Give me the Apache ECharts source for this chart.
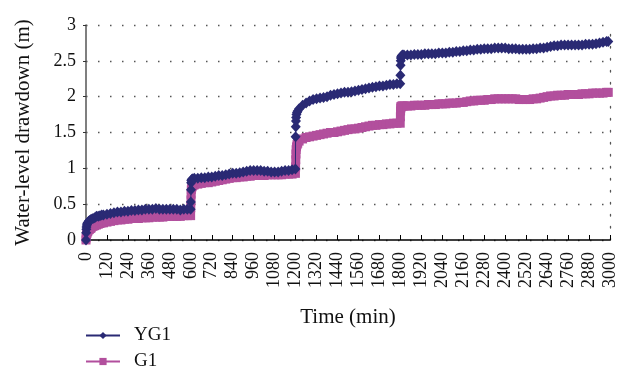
<!DOCTYPE html>
<html>
<head>
<meta charset="utf-8">
<script src="https://cdn.jsdelivr.net/npm/echarts@6/dist/echarts.min.js"></script>
<style>html,body{margin:0;padding:0;background:#fff}#c{width:619px;height:373px}</style>
</head>
<body>
<div id="c"></div>
<script>
// Time (min)
const times = [
  0,1,2,3,5,7,10,15,20,25,30,40,50,60,70,80,90,100,120,140,160,180,200,220,240,260,280,300,320,340,360,380,400,420,440,460,480,500,520,540,560,580,599,
  600,601,602,603,605,608,612,620,640,660,680,700,720,740,760,780,800,820,840,860,880,900,920,940,960,980,1000,1020,1040,1060,1080,1100,1120,1140,1160,1180,1199,
  1200,1201,1202,1203,1205,1208,1212,1220,1240,1260,1280,1300,1320,1340,1360,1380,1400,1420,1440,1460,1480,1500,1520,1540,1560,1580,1600,1620,1640,1660,1680,1700,1720,1740,1760,1780,1799,
  1800,1801,1802,1803,1805,1808,1812,1820,1840,1860,1880,1900,1920,1940,1960,1980,2000,2020,2040,2060,2080,2100,2120,2140,2160,2180,2200,2220,2240,2260,2280,2300,2320,2340,2360,2380,2400,
  2420,2440,2460,2480,2500,2520,2540,2560,2580,2600,2620,2640,2660,2680,2700,2720,2740,2760,2780,2800,2820,2840,2860,2880,2900,2920,2940,2960,2980,2990
];
// YG1 water-level drawdown (m)
const yg1 = [
  0,0.10,0.15,0.18,0.21,0.23,0.24,0.26,0.27,0.28,0.29,0.30,0.31,0.33,0.33,0.34,0.35,0.35,0.36,0.37,0.38,0.39,0.39,0.40,0.40,0.41,0.41,0.42,0.42,0.43,0.43,0.43,0.44,0.43,0.43,0.43,0.43,0.43,0.43,0.42,0.43,0.43,0.43,
  0.53,0.70,0.80,0.83,0.84,0.85,0.85,0.86,0.86,0.87,0.87,0.88,0.88,0.89,0.90,0.90,0.91,0.92,0.93,0.93,0.94,0.95,0.96,0.97,0.97,0.97,0.97,0.96,0.96,0.95,0.95,0.95,0.96,0.97,0.97,0.98,0.99,
  1.44,1.58,1.66,1.71,1.75,1.78,1.80,1.83,1.88,1.91,1.94,1.96,1.97,1.98,1.99,2.00,2.02,2.03,2.04,2.05,2.06,2.06,2.07,2.08,2.09,2.10,2.11,2.12,2.13,2.14,2.15,2.15,2.16,2.17,2.17,2.18,2.18,
  2.30,2.44,2.50,2.54,2.56,2.57,2.58,2.58,2.58,2.58,2.59,2.59,2.59,2.60,2.60,2.60,2.60,2.61,2.61,2.61,2.62,2.62,2.63,2.63,2.64,2.64,2.65,2.65,2.66,2.66,2.67,2.67,2.67,2.68,2.68,2.68,2.68,
  2.67,2.67,2.67,2.66,2.66,2.66,2.66,2.67,2.67,2.68,2.68,2.69,2.70,2.71,2.71,2.72,2.72,2.72,2.72,2.72,2.72,2.72,2.73,2.73,2.73,2.74,2.75,2.76,2.77,2.77
];
// G1 water-level drawdown (m)
const g1 = [
  0,0.03,0.05,0.07,0.09,0.11,0.12,0.14,0.15,0.16,0.17,0.19,0.20,0.21,0.22,0.23,0.24,0.24,0.25,0.26,0.27,0.28,0.28,0.29,0.29,0.30,0.30,0.30,0.31,0.31,0.31,0.32,0.32,0.32,0.32,0.33,0.33,0.33,0.33,0.33,0.34,0.34,0.34,
  0.45,0.56,0.64,0.70,0.73,0.75,0.76,0.77,0.78,0.79,0.80,0.80,0.81,0.82,0.83,0.84,0.85,0.86,0.87,0.87,0.88,0.88,0.89,0.89,0.90,0.90,0.90,0.90,0.91,0.91,0.91,0.91,0.91,0.92,0.92,0.92,0.93,
  1.02,1.12,1.20,1.26,1.30,1.33,1.35,1.38,1.41,1.43,1.44,1.45,1.46,1.47,1.48,1.49,1.50,1.50,1.51,1.52,1.53,1.54,1.55,1.55,1.56,1.57,1.58,1.59,1.60,1.60,1.61,1.61,1.62,1.62,1.63,1.63,1.63,
  1.72,1.80,1.84,1.86,1.86,1.87,1.87,1.87,1.87,1.87,1.88,1.88,1.88,1.88,1.89,1.89,1.89,1.90,1.90,1.90,1.91,1.91,1.91,1.92,1.92,1.93,1.94,1.94,1.95,1.95,1.95,1.96,1.96,1.97,1.97,1.97,1.97,
  1.97,1.97,1.97,1.96,1.96,1.96,1.96,1.97,1.97,1.98,1.99,2.00,2.01,2.01,2.02,2.02,2.02,2.03,2.03,2.03,2.03,2.04,2.04,2.04,2.05,2.05,2.05,2.05,2.06,2.06
];
const seriesNames = ['YG1', 'G1'];
const yTicks = { min: 0, max: 3, interval: 0.5 };
const xTicks = { min: 0, max: 3000, interval: 120 };

const FONT = 'Liberation Serif';
const C_YG1 = '#2a2a74';
const C_G1 = '#b24f9d';
const pairs = (vals) => times.map((t, i) => [t, vals[i]]);
const dotted = [1.5, 10.5];

const chart = echarts.init(document.getElementById('c'), null, { renderer: 'canvas' });
chart.setOption({
  animation: false,
  backgroundColor: '#fff',
  grid: { left: 86, right: 8, top: 25, bottom: 133, containLabel: false },
  xAxis: {
    type: 'value', min: xTicks.min, max: xTicks.max, interval: xTicks.interval,
    name: 'Time (min)', nameLocation: 'middle', nameGap: 67,
    nameTextStyle: { fontFamily: FONT, fontSize: 21, color: '#111' },
    axisLine: { show: true, onZero: false, lineStyle: { color: '#000', width: 1.5 } },
    axisTick: { show: true, inside: true, length: 5, lineStyle: { color: '#000', width: 1 } },
    axisLabel: { rotate: 90, fontFamily: FONT, fontSize: 18, color: '#111', margin: 12, showMinLabel: true, showMaxLabel: true, hideOverlap: false, formatter: v => String(v) },
    splitLine: { show: false }
  },
  yAxis: [{
    type: 'value', min: yTicks.min, max: yTicks.max, interval: yTicks.interval,
    name: 'Water-level drawdown (m)', nameLocation: 'middle', nameGap: 52, nameRotate: 90,
    nameTextStyle: { fontFamily: FONT, fontSize: 21, color: '#111' },
    axisLine: { show: true, lineStyle: { color: '#555', width: 1.5 } },
    axisTick: { show: true, inside: false, length: 3, lineStyle: { color: '#333' } },
    axisLabel: { fontFamily: FONT, fontSize: 18, color: '#111', margin: 10, formatter: v => String(v) },
    splitLine: { show: true, lineStyle: { color: '#555', width: 1.3, type: dotted } }
  }, {
    type: 'value', position: 'right', min: yTicks.min, max: yTicks.max, interval: yTicks.interval,
    axisLine: { show: true, lineStyle: { color: '#555', width: 1.3, type: dotted } },
    axisTick: { show: false }, axisLabel: { show: false }, splitLine: { show: false }
  }],
  legend: {
    data: seriesNames, orient: 'vertical', left: 85, top: 326, padding: 0,
    itemWidth: 34, itemHeight: 9, itemGap: 7,
    textStyle: { fontFamily: FONT, fontSize: 19, color: '#111', lineHeight: 19, padding: [0, 0, 0, 9] }
  },
  series: [{
    name: 'G1', type: 'line', data: pairs(g1), z: 2,
    symbol: 'rect', symbolSize: 9, showSymbol: true, showAllSymbol: true,
    itemStyle: { color: C_G1 }, lineStyle: { color: C_G1, width: 1 }
  }, {
    name: 'YG1', type: 'line', data: pairs(yg1), z: 3,
    symbol: 'diamond', symbolSize: [10, 11], showSymbol: true, showAllSymbol: true,
    itemStyle: { color: C_YG1 }, lineStyle: { color: C_YG1, width: 1 }
  }]
});
</script>
</body>
</html>
